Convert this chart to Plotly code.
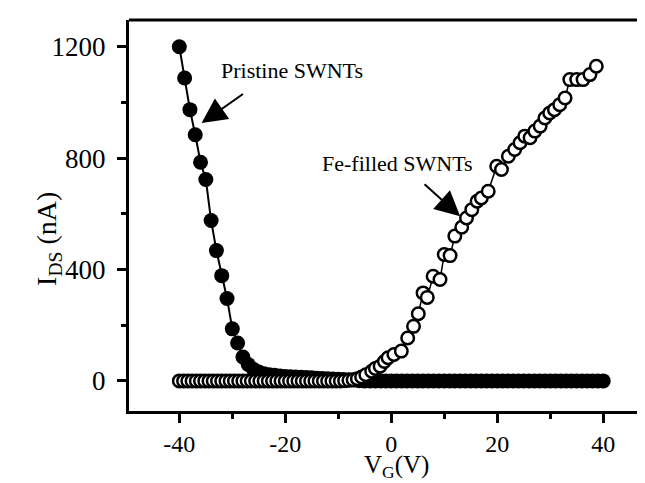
import plotly.graph_objects as go

# Pristine SWNTs (filled circles)
pristine_vg = [-40, -39, -38, -37, -36, -35, -34, -33, -32, -31, -30, -29, -28, -27,
               -26, -25, -24, -23, -22, -21, -20, -19, -18, -17, -16, -15, -14, -13,
               -12, -11, -10, -9, -8, -7, -6, -5, -4, -3, -2, -1, 0, 1, 2, 3, 4, 5,
               6, 7, 8, 9, 10, 11, 12, 13, 14, 15, 16, 17, 18, 19, 20, 21, 22, 23, 24,
               25, 26, 27, 28, 29, 30, 31, 32, 33, 34, 35, 36, 37, 38, 39, 40]
pristine_ids = [1200, 1088, 974, 884, 785, 723, 576, 468, 378, 296, 187, 136, 86, 59,
                42, 32, 26, 22, 20, 18, 16, 15, 14, 13, 12, 11, 10, 9,
                8, 7, 6, 5, 4, 3, 1, 0, 0, 0, 0, 0, 0, 0, 0, 0, 0, 0,
                0, 0, 0, 0, 0, 0, 0, 0, 0, 0, 0, 0, 0, 0, 0, 0, 0, 0, 0,
                0, 0, 0, 0, 0, 0, 0, 0, 0, 0, 0, 0, 0, 0, 0, 0]

# Fe-filled SWNTs (open circles)
fe_vg = [-40, -39.2, -38.4, -37.6, -36.8, -36, -35.2, -34.4, -33.6, -32.8, -32, -31.2,
         -30.4, -29.6, -28.8, -28, -27.2, -26.4, -25.6, -24.8, -24, -23.2, -22.4, -21.6,
         -20.8, -20, -19.2, -18.4, -17.6, -16.8, -16, -15.2, -14.4, -13.6, -12.8, -12,
         -11.2, -10.4, -9.6, -8.8, -8, -7.2, -6.4, -5.6, -4.8,
         -3.7, -3.0, -2.1, -1.3, -0.6, 0.5, 1.9, 3.1, 4.2, 5.1, 6.0, 6.8, 7.9, 9.2, 10.0,
         11.1, 12.0, 13.3, 14.2, 15.2, 16.2, 17.0, 18.3, 19.9, 20.8, 22.1, 23.3, 24.3,
         25.2, 26.2, 27.1, 28.1, 29.0, 29.9, 30.8, 31.8, 32.8, 33.7, 35.0, 36.2, 37.5,
         38.7, 40.0]
fe_ids = [0, 0, 0, 0, 0, 0, 0, 0, 0, 0, 0, 0,
          0, 0, 0, 0, 0, 0, 0, 0, 0, 0, 0, 0,
          0, 0, 0, 0, 0, 0, 0, 0, 0, 0, 0, 0,
          0, 0, 0, 1, 2, 4, 8, 14, 22,
          35, 45, 53, 70, 83, 95, 107, 154, 196, 241, 316, 300, 376, 364,
          454, 450, 520, 552, 585, 615, 645, 657, 681, 771, 759, 807, 831,
          855, 879, 873, 897, 915, 944, 962, 974, 992, 1016, 1082, 1082, 1082,
          1100, 1130]

x_ticks = [-40, -20, 0, 20, 40]
x_tick_labels = ["-40", "-20", "0", "20", "40"]
y_ticks = [0, 400, 800, 1200]
y_tick_labels = ["0", "400", "800", "1200"]

SERIF = "Liberation Serif, Times New Roman, serif"

fig = go.Figure()
fig.add_trace(go.Scatter(
    x=pristine_vg, y=pristine_ids, mode="lines+markers",
    line=dict(color="black", width=2),
    marker=dict(symbol="circle", size=15, color="black"),
    showlegend=False))
fig.add_trace(go.Scatter(
    x=fe_vg, y=fe_ids, mode="lines+markers",
    line=dict(color="black", width=1.5),
    marker=dict(symbol="circle", size=12.5, color="white",
                line=dict(color="black", width=2.5)),
    showlegend=False))

axis_common = dict(
    showgrid=False, zeroline=False, showline=True, linecolor="black", linewidth=3,
    ticks="outside", ticklen=9, tickwidth=2.5, tickcolor="black",
)
fig.update_xaxes(range=[-49.5, 49.4], tickvals=x_ticks, ticktext=x_tick_labels,
                 tickfont=dict(family=SERIF, size=24, color="black"),
                 minor=dict(dtick=10, tick0=0, ticks="outside", ticklen=5,
                            tickwidth=2.5, tickcolor="black"),
                 **axis_common)
fig.update_yaxes(range=[-108, 1296], tickvals=y_ticks, ticktext=y_tick_labels,
                 tickfont=dict(family=SERIF, size=27, color="black"),
                 ticklabelstandoff=6,
                 minor=dict(dtick=200, tick0=0, ticks="outside", ticklen=5,
                            tickwidth=2.5, tickcolor="black"),
                 **axis_common)

# top frame line
fig.add_shape(type="line", xref="paper", yref="paper", x0=0, x1=1, y0=1, y1=1,
              line=dict(color="black", width=3))

fig.add_annotation(xref="paper", yref="paper", x=-0.19, y=0.44,
                   text="I<sub>DS</sub> (nA)", textangle=-90, showarrow=False,
                   font=dict(family=SERIF, size=28, color="black"))
fig.add_annotation(xref="paper", yref="paper", x=0.51, y=-0.1, yanchor="top",
                   text="V<sub>G</sub>(V)", showarrow=False, borderpad=0,
                   font=dict(family=SERIF, size=25, color="black"))

fig.add_annotation(x=-32.6, y=1116, xanchor="left", text="Pristine SWNTs",
                   showarrow=False, font=dict(family=SERIF, size=22, color="black"))
fig.add_annotation(x=15.8, y=779, xanchor="right", text="Fe-filled SWNTs",
                   showarrow=False, font=dict(family=SERIF, size=22, color="black"))

fig.add_annotation(x=-35.8, y=926, ax=-27.7, ay=1034, axref="x", ayref="y",
                   text="", showarrow=True, arrowhead=2, arrowsize=2.5,
                   arrowwidth=2, arrowcolor="black")
fig.add_annotation(x=13.0, y=591, ax=6.0, ay=711, axref="x", ayref="y",
                   text="", showarrow=True, arrowhead=2, arrowsize=2.5,
                   arrowwidth=2, arrowcolor="black")

fig.update_layout(width=645, height=483, margin=dict(l=121, r=0, t=12, b=80),
                  plot_bgcolor="white", paper_bgcolor="white")

fig.write_html("out.html")
